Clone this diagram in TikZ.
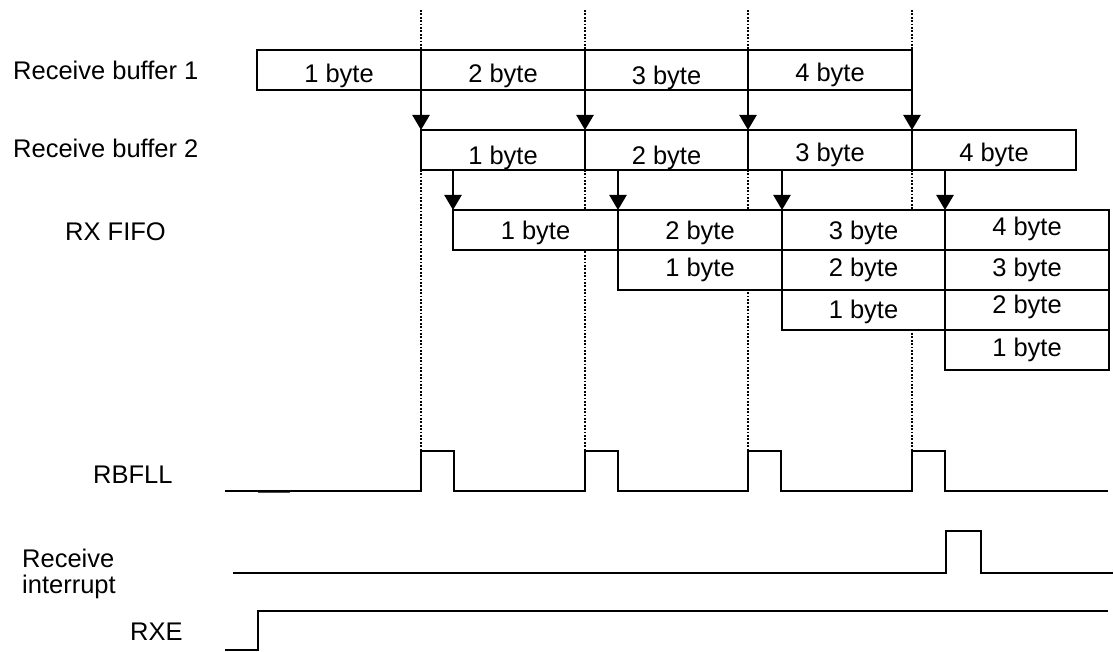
\documentclass[tikz,border=0pt]{standalone}
\usepackage{fontspec}
\setmainfont{Liberation Sans}
\usetikzlibrary{arrows.meta}
\begin{document}
\begin{tikzpicture}[x=1pt,y=-1pt,
  txt/.style={font=\fontsize{25.5}{30}\selectfont},
  cell/.style={txt, draw, fill=white, line width=2.4pt, outer sep=0pt, inner sep=0pt,
    minimum height=40pt, anchor=north west, text depth=0pt},
  w/.style={minimum width=#1},
  th/.style={text height=#1},
  lab/.style={txt, inner sep=0pt, anchor=base west},
  dotl/.style={line width=2.2pt, dash pattern=on 1.8pt off 1.6pt},
  arr/.style={line width=2.4pt, -{Triangle[width=17pt,length=15pt]}},
  wave/.style={line width=2.4pt, line join=miter}]
\useasboundingbox (0,0) rectangle (1114,652);
% time markers
\coordinate (m1) at (421,451);
\coordinate (m2) at (585,451);
\coordinate (m3) at (748,451);
\coordinate (m4) at (912,451);
\foreach \m in {m1,m2,m3,m4} \draw[dotl] (\m |- 0,10) -- (\m);
% labels
\node[lab] (lb1) at (13,80) {Receive buffer 1};
\node[lab] (lb2) at (13,158) {Receive buffer 2};
\node[lab] (lfifo) at (65,241) {RX FIFO};
\node[lab] (lrb) at (93,483) {RBFLL};
\node[lab] (lri1) at (22,567) {Receive};
\node[lab] (lri2) at (22,593) {interrupt};
\node[lab] (lrxe) at (130,640) {RXE};
% receive buffer 1
\node[cell,w=164,th=26pt] (b1c1) at (257,50) {1 byte};
\node[cell,w=164,th=26pt] (b1c2) at (421,50) {2 byte};
\node[cell,w=163,th=30pt] (b1c3) at (585,50) {3 byte};
\node[cell,w=164,th=24pt] (b1c4) at (748,50) {4 byte};
% receive buffer 2
\node[cell,w=164,th=30pt] (b2c1) at (421,130) {1 byte};
\node[cell,w=163,th=30pt] (b2c2) at (585,130) {2 byte};
\node[cell,w=164,th=24pt] (b2c3) at (748,130) {3 byte};
\node[cell,w=164,th=24pt] (b2c4) at (912,130) {4 byte};
% RX FIFO
\node[cell,w=165,th=20pt] (f11) at (453,210) {1 byte};
\node[cell,w=164,th=20pt] (f21) at (618,210) {2 byte};
\node[cell,w=164,th=14pt] (f22) at (618,250) {1 byte};
\node[cell,w=163,th=20pt] (f31) at (782,210) {3 byte};
\node[cell,w=163,th=14pt] (f32) at (782,250) {2 byte};
\node[cell,w=163,th=18pt] (f33) at (782,290) {1 byte};
\node[cell,w=164,th=12pt] (f41) at (945,210) {4 byte};
\node[cell,w=164,th=14pt] (f42) at (945,250) {3 byte};
\node[cell,w=164,th=8pt] (f43) at (945,290) {2 byte};
\node[cell,w=164,th=12pt] (f44) at (945,330) {1 byte};
% arrows buffer 1 -> buffer 2
\draw[arr] (b1c1.south east) -- (b2c1.north west);
\draw[arr] (b1c2.south east) -- (b2c2.north west);
\draw[arr] (b1c3.south east) -- (b2c3.north west);
\draw[arr] (b1c4.south east) -- (b2c4.north west);
% arrows buffer 2 -> FIFO
\draw[arr] (f11.north west |- b2c1.south) -- (f11.north west);
\draw[arr] (f21.north west |- b2c2.south) -- (f21.north west);
\draw[arr] (f31.north west |- b2c3.south) -- (f31.north west);
\draw[arr] (f41.north west |- b2c4.south) -- (f41.north west);
% RBFLL
\draw[wave] (225,491) -- (m1 |- 0,491) -- (m1) -- (454,451) -- (454,491)
  -- (m2 |- 0,491) -- (m2) -- (618,451) -- (618,491)
  -- (m3 |- 0,491) -- (m3) -- (781,451) -- (781,491)
  -- (m4 |- 0,491) -- (m4) -- (945,451) -- (945,491) -- (1108,491);
\draw[line width=1.2pt, black!70] (258,492.5) -- (290,492.5);
% Receive interrupt
\draw[wave] (233,573) -- (946,573) -- (946,531) -- (981,531) -- (981,573) -- (1113,573);
% RXE
\draw[wave] (225,650) -- (258,650) -- (258,611) -- (1108,611);
\end{tikzpicture}
\end{document}
